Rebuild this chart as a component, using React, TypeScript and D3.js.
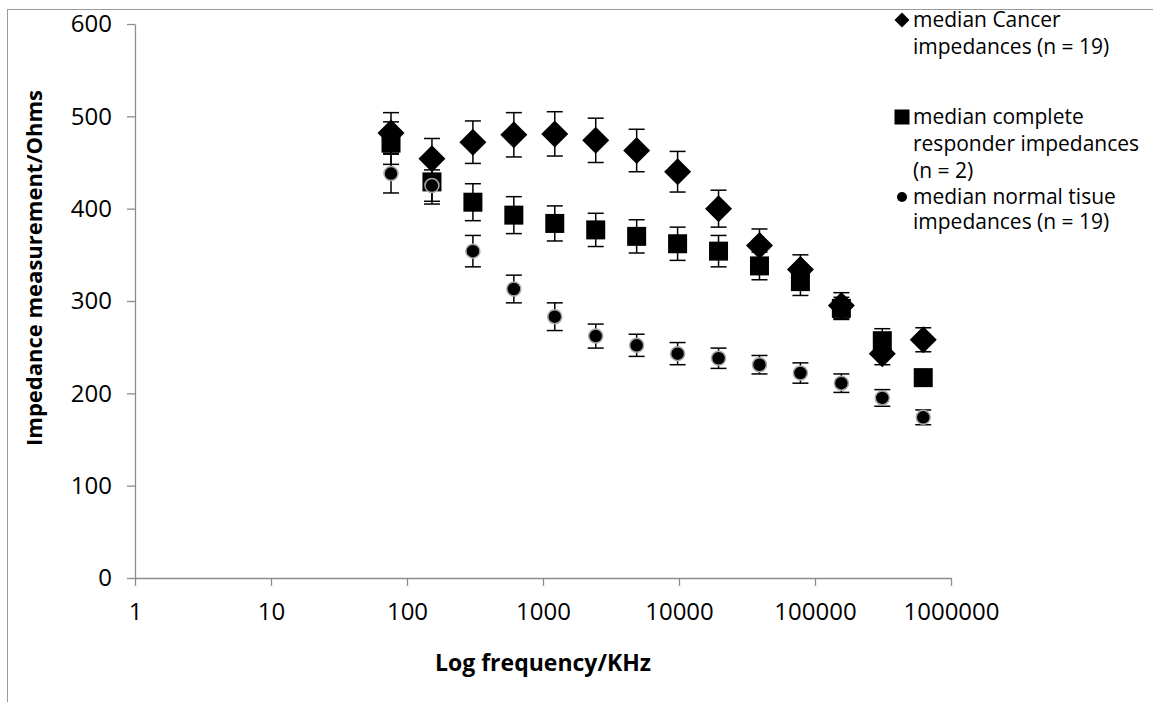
import React, { useRef, useEffect } from "react";
import * as d3 from "d3";

// frequencies (KHz) on a log axis
const freqs = [76.29, 152.59, 305.18, 610.35, 1220.7, 2441.41, 4882.81, 9765.63, 19531.25, 39062.5, 78125, 156250, 312500, 625000];

const cancer = [482, 454, 472, 480, 481, 474, 463, 440, 400, 360, 334, 295, 243, 258];
const cancerErr = [22, 22, 23, 24, 24, 24, 23, 22, 20, 18, 16, 14, 12, 13];

const responder = [471, 429, 407, 393, 384, 377, 370, 362, 354, 338, 321, 292, 257, 217];
const responderErr = [23, 24, 20, 20, 19, 18, 18, 18, 17, 15, 15, 12, 13, 8];

const normal = [438, 425, 354, 313, 283, 262, 252, 243, 238, 231, 222, 211, 195, 174];
const normalErr = [21, 17, 17, 15, 15, 13, 12, 12, 11, 10, 11, 10, 9, 8];

const xTicks = [1, 10, 100, 1000, 10000, 100000, 1000000];
const yTicks = [0, 100, 200, 300, 400, 500, 600];

const legendLines = [
    ["median Cancer", "impedances (n = 19)"],
    ["median complete", "responder impedances", "(n = 2)"],
    ["median normal tisue", "impedances (n = 19)"],
];

const FONT = "'Open Sans', 'Noto Sans', sans-serif";
const AXIS = "#8c8c8c";

function App() {
    const svgRef = useRef(null);

    useEffect(() => {
        const svg = d3.select(svgRef.current);
        svg.selectAll("*").remove();

        const width = 1153;
        const height = 702;
        const plot = { left: 135, right: 951, top: 24, bottom: 578 };

        const x = d3.scaleLog().domain([1, 1000000]).range([plot.left, plot.right]);
        const y = d3.scaleLinear().domain([0, 600]).range([plot.bottom, plot.top]);

        svg.attr("width", width).attr("height", height);

        // chart area frame
        svg.append("rect")
            .attr("x", 7.5).attr("y", 9.5)
            .attr("width", 1300).attr("height", 900)
            .attr("fill", "white")
            .attr("stroke", "#9a9a9a")
            .attr("stroke-width", 1);

        // y axis
        const yAxis = svg.append("g")
            .attr("transform", `translate(${plot.left},0)`)
            .call(d3.axisLeft(y).tickValues(yTicks).tickSize(8).tickSizeOuter(0).tickPadding(15));
        yAxis.select(".domain").attr("stroke", AXIS).attr("stroke-width", 1.3);
        yAxis.selectAll(".tick line").attr("stroke", AXIS).attr("stroke-width", 1.3);
        yAxis.selectAll(".tick text")
            .attr("fill", "#000")
            .style("font-family", FONT)
            .style("font-size", "24px");

        // x axis
        const xAxis = svg.append("g")
            .attr("transform", `translate(0,${plot.bottom})`)
            .call(d3.axisBottom(x).tickValues(xTicks).tickFormat(d3.format("d")).tickSize(8).tickSizeOuter(0).tickPadding(17));
        xAxis.select(".domain").attr("stroke", AXIS).attr("stroke-width", 1.3);
        xAxis.selectAll(".tick line").attr("stroke", AXIS).attr("stroke-width", 1.3);
        xAxis.selectAll(".tick text")
            .attr("fill", "#000")
            .style("font-family", FONT)
            .style("font-size", "24px");

        // axis titles
        svg.append("text")
            .attr("x", (plot.left + plot.right) / 2)
            .attr("y", 671)
            .attr("text-anchor", "middle")
            .style("font-family", FONT)
            .style("font-size", "23px")
            .style("font-weight", "bold")
            .text("Log frequency/KHz");

        svg.append("text")
            .attr("transform", `translate(42,${(plot.top + plot.bottom) / 2 - 33}) rotate(-90)`)
            .attr("text-anchor", "middle")
            .style("font-family", FONT)
            .style("font-size", "22px")
            .style("font-weight", "bold")
            .text("Impedance measurement/Ohms");

        const series = [
            { values: cancer, err: cancerErr, shape: "diamond" },
            { values: responder, err: responderErr, shape: "square" },
            { values: normal, err: normalErr, shape: "circle" },
        ];

        const drawMarker = (g, shape, cx, cy, big) => {
            if (shape === "diamond") {
                const r = big ? 13.5 : 7.5;
                g.append("path")
                    .attr("d", `M${cx},${cy - r}L${cx + r},${cy}L${cx},${cy + r}L${cx - r},${cy}Z`)
                    .attr("fill", "#000");
            } else if (shape === "square") {
                const s = big ? 19 : 15;
                g.append("rect")
                    .attr("x", cx - s / 2).attr("y", cy - s / 2)
                    .attr("width", s).attr("height", s)
                    .attr("fill", "#000");
            } else {
                g.append("circle")
                    .attr("cx", cx).attr("cy", cy)
                    .attr("r", big ? 7 : 5)
                    .attr("fill", "#000")
                    .attr("stroke", big ? "#a8a8a8" : "none")
                    .attr("stroke-width", 1.5);
            }
        };

        series.forEach((s) => {
            const g = svg.append("g");
            s.values.forEach((v, i) => {
                const cx = x(freqs[i]);
                const y0 = y(v - s.err[i]);
                const y1 = y(v + s.err[i]);
                g.append("line")
                    .attr("x1", cx).attr("x2", cx).attr("y1", y0).attr("y2", y1)
                    .attr("stroke", "#000").attr("stroke-width", 1.5);
                [y0, y1].forEach((yy) => {
                    g.append("line")
                        .attr("x1", cx - 8).attr("x2", cx + 8).attr("y1", yy).attr("y2", yy)
                        .attr("stroke", "#000").attr("stroke-width", 1.5);
                });
            });
            s.values.forEach((v, i) => drawMarker(g, s.shape, x(freqs[i]), y(v), true));
        });

        // legend
        const legendStarts = [27, 124, 204];
        const legendGaps = [27, 27, 25];
        const legend = svg.append("g");
        legendLines.forEach((lines, k) => {
            drawMarker(legend, series[k].shape, 902, legendStarts[k] - 7, false);
            lines.forEach((line, j) => {
                legend.append("text")
                    .attr("x", 913)
                    .attr("y", legendStarts[k] + j * legendGaps[k])
                    .style("font-family", FONT)
                    .style("font-size", "21px")
                    .text(line);
            });
        });
    }, []);

    return (
        <svg ref={svgRef} style={{ position: "absolute", left: 0, top: 0 }}></svg>
    );
}

export default App;
